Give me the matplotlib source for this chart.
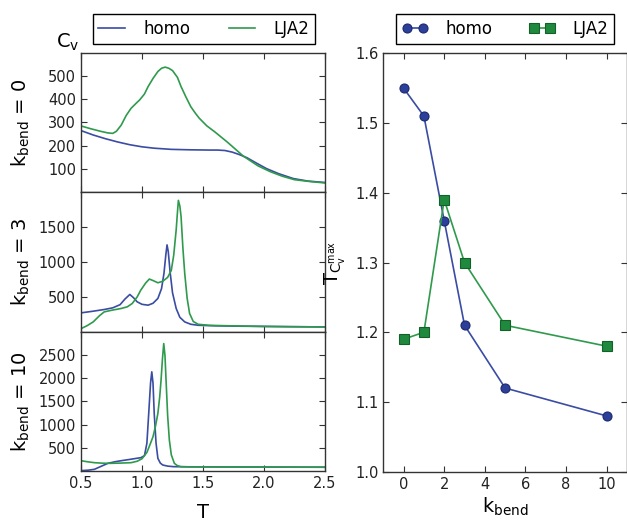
import matplotlib
matplotlib.use("Agg")
import matplotlib.pyplot as plt

# C_v(T) curves, k_bend = 0
T_homo0 = [0.50, 0.60, 0.70, 0.80, 0.90, 1.00, 1.10, 1.24, 1.40, 1.55, 1.62, 1.68, 1.74, 1.80,
           1.86, 1.93, 2.02, 2.12, 2.24, 2.36, 2.50]
cv_homo0 = [265, 246, 230, 216, 204, 195, 189, 184, 182, 181, 181, 179, 172, 161,
            148, 127, 101, 79, 58, 47, 41]
T_lja0 = [0.50, 0.58, 0.66, 0.72, 0.76, 0.79, 0.83, 0.87, 0.91, 0.95, 0.98, 1.02, 1.05, 1.09,
          1.13, 1.16, 1.19, 1.22, 1.25, 1.29, 1.32, 1.36, 1.40, 1.44, 1.47, 1.53, 1.60, 1.70,
          1.83, 1.95, 2.05, 2.15, 2.25, 2.38, 2.50]
cv_lja0 = [285, 273, 262, 255, 253, 262, 289, 330, 361, 382, 397, 423, 455, 490,
           520, 534, 539, 534, 524, 495, 455, 410, 368, 338, 318, 286, 258, 215,
           155, 113, 88, 68, 53, 45, 39]

# k_bend = 3
T_homo3 = [0.50, 0.60, 0.69, 0.76, 0.82, 0.86, 0.90, 0.93, 0.96, 1.00, 1.05, 1.09, 1.13, 1.16,
           1.18, 1.195, 1.205, 1.215, 1.23, 1.25, 1.28, 1.31, 1.35, 1.40, 1.46, 1.60, 1.80,
           2.00, 2.20, 2.50]
cv_homo3 = [273, 297, 321, 345, 390, 470, 536, 490, 431, 395, 383, 410, 479, 620,
            838, 1100, 1244, 1150, 861, 560, 336, 210, 144, 110, 96, 88, 83,
            79, 76, 72]
T_lja3 = [0.50, 0.55, 0.60, 0.65, 0.69, 0.75, 0.83, 0.88, 0.92, 0.96, 0.99, 1.03, 1.06, 1.09,
          1.13, 1.17, 1.21, 1.24, 1.26, 1.28, 1.29, 1.298, 1.31, 1.32, 1.335, 1.35, 1.37,
          1.39, 1.42, 1.46, 1.55, 1.80, 2.00, 2.20, 2.50]
cv_lja3 = [48, 90, 144, 230, 287, 310, 336, 360, 407, 500, 598, 700, 756, 735,
           703, 725, 780, 880, 1100, 1459, 1700, 1880, 1800, 1650, 1200, 838, 480,
           264, 150, 110, 95, 85, 80, 76, 72]

# k_bend = 10
T_homo10 = [0.50, 0.56, 0.61, 0.66, 0.72, 0.78, 0.83, 0.90, 0.96, 0.99, 1.02, 1.04, 1.055,
            1.07, 1.08, 1.09, 1.10, 1.115, 1.13, 1.15, 1.17, 1.21, 1.26, 1.40, 1.70, 2.00, 2.50]
cv_homo10 = [7, 18, 36, 95, 165, 200, 222, 250, 275, 287, 330, 600, 1243,
             1900, 2140, 1900, 1243, 600, 273, 170, 129, 105, 93, 90, 87, 85, 82]
T_lja10 = [0.50, 0.55, 0.61, 0.68, 0.74, 0.82, 0.91, 0.96, 1.00, 1.04, 1.07, 1.09, 1.11, 1.13,
           1.145, 1.156, 1.167, 1.178, 1.188, 1.197, 1.21, 1.224, 1.24, 1.265, 1.29, 1.32,
           1.40, 1.70, 2.00, 2.50]
cv_lja10 = [222, 200, 179, 168, 165, 170, 179, 210, 265, 400, 600, 740, 960, 1243,
            1600, 1960, 2400, 2750, 2500, 1960, 1200, 668, 350, 165, 115, 93,
            88, 86, 84, 80]

# temperature of C_v maximum vs k_bend
k_bend = [0, 1, 2, 3, 5, 10]
tmax_homo = [1.55, 1.51, 1.36, 1.21, 1.12, 1.08]
tmax_lja = [1.19, 1.20, 1.39, 1.30, 1.21, 1.18]

blue = "#3a4ca3"
green = "#2f9a4c"

plt.rcParams.update({
    "font.family": "DejaVu Sans",
    "mathtext.default": "regular",
    "xtick.direction": "in",
    "ytick.direction": "in",
    "xtick.top": True,
    "ytick.right": True,
    "xtick.major.size": 4,
    "ytick.major.size": 4,
    "xtick.color": "#333333",
    "ytick.color": "#333333",
    "xtick.labelcolor": "#222222",
    "ytick.labelcolor": "#222222",
    "axes.edgecolor": "#333333",
    "axes.linewidth": 1.0,
    "xtick.labelsize": 10.5,
    "ytick.labelsize": 10.5,
})

fig = plt.figure(figsize=(6.27, 5.21), dpi=100)

# left column: three stacked panels
x0, w = 0.1292, 0.3892
ax1 = fig.add_axes([x0, 0.6315, w, 0.2668])
ax2 = fig.add_axes([x0, 0.3628, w, 0.2687])
ax3 = fig.add_axes([x0, 0.0960, w, 0.2668])

panels = [
    (ax1, T_homo0, cv_homo0, T_lja0, cv_lja0, 600, [100, 200, 300, 400, 500], "0"),
    (ax2, T_homo3, cv_homo3, T_lja3, cv_lja3, 2000, [500, 1000, 1500], "3"),
    (ax3, T_homo10, cv_homo10, T_lja10, cv_lja10, 3000, [500, 1000, 1500, 2000, 2500], "10"),
]
for ax, th, ch, tl, cl, ymax, yt, k in panels:
    lh, = ax.plot(th, ch, color=blue, lw=1.2, label="homo")
    ll, = ax.plot(tl, cl, color=green, lw=1.2, label="LJA2")
    ax.set_xlim(0.5, 2.5)
    ax.set_ylim(0, ymax)
    ax.set_xticks([0.5, 1.0, 1.5, 2.0, 2.5])
    ax.set_yticks(yt)
    ax.set_ylabel("$k_{bend}$ = " + k, fontsize=14)
    ax.yaxis.set_label_coords(-0.20, 0.5)
    if ax is not ax3:
        ax.tick_params(labelbottom=False)

ax3.set_xlabel("T", fontsize=14)
ax3.xaxis.set_label_coords(0.5, -0.23)
ax1.text(-0.102, 1.0, "$C_v$", transform=ax1.transAxes, ha="left", va="bottom", fontsize=14)

fig.legend([lh, ll], ["homo", "LJA2"], loc="center", bbox_to_anchor=(0.3254, 0.9443),
           ncol=2, fontsize=12, fancybox=False, edgecolor="black", framealpha=1,
           handlelength=1.6, handletextpad=1.1, columnspacing=2.3, borderpad=0.35)

# right panel
axr = fig.add_axes([0.6113, 0.0946, 0.3887, 0.8031])
pr1, = axr.plot(k_bend, tmax_homo, color=blue, lw=1.2, marker="o", ms=6.5,
                mfc="#2c3f9b", mec="#1c2a6b", mew=0.8, label="homo")
pr2, = axr.plot(k_bend, tmax_lja, color=green, lw=1.2, marker="s", ms=6.5,
                mfc="#1f8a3d", mec="#14602b", mew=0.8, label="LJA2")
axr.set_xlim(-1, 11)
axr.set_ylim(1.0, 1.6)
axr.set_xticks([0, 2, 4, 6, 8, 10])
axr.set_yticks([1.0, 1.1, 1.2, 1.3, 1.4, 1.5, 1.6])
axr.set_xlabel("$k_{bend}$", fontsize=14)
axr.xaxis.set_label_coords(0.5, -0.058)
axr.set_ylabel("$T_{C_v^{max}}$", fontsize=14)
axr.yaxis.set_label_coords(-0.145, 0.5)

fig.legend([pr1, pr2], ["homo", "LJA2"], loc="center", bbox_to_anchor=(0.8052, 0.9443),
           ncol=2, fontsize=12, fancybox=False, edgecolor="black", framealpha=1,
           numpoints=2, handlelength=1.6, handletextpad=1.0, columnspacing=2.2,
           borderpad=0.35)

fig.savefig("out.png", dpi=100)
